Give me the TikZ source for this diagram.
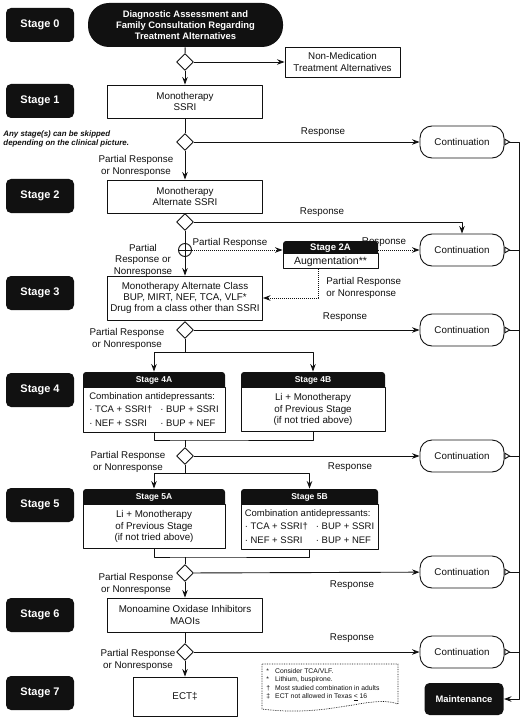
\documentclass[tikz,border=0pt]{standalone}
\usepackage{fontspec}
\setmainfont{Liberation Sans}
\usetikzlibrary{arrows.meta,calc,positioning,shapes.geometric}
\definecolor{tmapink}{HTML}{111111}

\begin{document}
\begin{tikzpicture}[x=1pt,y=-1pt,>={Stealth[length=7.5pt,width=5.5pt,inset=2.5pt]},
  line join=round,line width=.9pt,color=tmapink,
  font=\fontsize{9.8}{11.5}\selectfont,
  stage/.style={fill=tmapink,text=white,rounded corners=5pt,minimum width=68pt,minimum height=34pt,inner sep=0pt,font=\fontsize{11}{13}\selectfont\bfseries},
  entry/.style={fill=tmapink,text=white,rounded corners=21pt,minimum width=195pt,minimum height=44pt,inner sep=0pt,align=center,font=\fontsize{9.4}{11}\selectfont\bfseries},
  stepbox/.style={draw,fill=white,align=center,minimum width=155pt,inner sep=2pt},
  cont/.style={draw,fill=white,rounded corners=12pt,minimum width=84pt,minimum height=32pt,inner sep=0pt},
  finish/.style={fill=tmapink,text=white,rounded corners=5pt,minimum width=79pt,minimum height=32pt,inner sep=0pt,font=\fontsize{9.4}{11}\selectfont\bfseries},
  choice/.style={diamond,draw,fill=white,inner sep=0pt,minimum size=17pt},
  merge/.style={circle,draw,fill=white,inner sep=0pt,minimum size=13pt,
    path picture={\draw (path picture bounding box.north)--(path picture bounding box.south)
      (path picture bounding box.west)--(path picture bounding box.east);}},
  hdr/.style={fill=tmapink,text=white,rounded corners=3pt,inner sep=0pt,minimum height=18pt,text depth=3pt,font=\fontsize{8.5}{10}\selectfont\bfseries},
  panel/.style={draw,fill=white,align=center,inner sep=2pt},
  lbl/.style={align=center,inner sep=1pt},
  dots/.style={densely dotted,line width=1pt},
  contout/.style={{Triangle[open,reversed,length=6pt,width=7pt]}-}]
\path[use as bounding box] (0,0) rectangle (529,722);
\fill[white] (0,0) rectangle (529,722);

% stage column
\foreach \n/\y in {0/25,1/101,2/196,3/293,4/390,5/505,6/615,7/693}
  \node[stage] (s\n) at (40,\y) {Stage \n};

% Stage 0 and 1
\node[entry] (diag) at (185.5,25) {Diagnostic Assessment and\\Family Consultation Regarding\\Treatment Alternatives};
\node[choice] (d0) at (185,62) {};
\node[stepbox,minimum width=115pt,minimum height=30pt] (nonmed) at (342.5,62) {Non-Medication\\Treatment Alternatives};
\node[stepbox,minimum height=33pt] (m1) at (185,101.5) {Monotherapy\\SSRI};
\draw (diag) -- (d0);
\draw[->] (d0) -- (nonmed);
\draw[->] (d0) -- (m1);

% Stage 1 -> 2
\node[choice] (d1) at (185,142) {};
\node[cont] (c1) at (462,142) {Continuation};
\node[lbl] (r1) at (323,132) {Response};
\node[lbl] (p1) at (136,166) {Partial Response\\or Nonresponse};
\node[lbl,anchor=west,align=left,font=\fontsize{7.9}{9.5}\selectfont\bfseries\itshape] (skip) at (2,139) {Any stage(s) can be skipped\\depending on the clinical picture.};
\node[stepbox,minimum height=33pt] (m2) at (185,196.5) {Monotherapy\\Alternate SSRI};
\draw (m1) -- (d1);
\draw[->] (d1) -- (c1);
\draw[->] (d1) -- (m2);

% Stage 2 -> 2A / 3
\node[choice] (d2) at (185,222) {};
\node[cont] (c2) at (462,250) {Continuation};
\node[lbl] (r2) at (322,212) {Response};
\node[merge] (plus) at (185,250) {};
\node[lbl] (p2a) at (230,243) {Partial Response};
\node[hdr,minimum width=95pt,minimum height=15pt,font=\fontsize{9.5}{11}\selectfont\bfseries] (h2a) at (330.5,248.5) {Stage 2A};
\node[panel,minimum width=95pt,minimum height=15pt,inner sep=0pt,below=-3pt of h2a,font=\fontsize{10.5}{12}\selectfont] (b2a) {Augmentation**};
\node[lbl] (r2a) at (384,242) {Response};
\node[lbl,anchor=west,align=left] (p2b) at (325,288) {Partial Response\\or Nonresponse};
\node[lbl] (p2) at (143,260) {Partial\\Response or\\Nonresponse};
\node[stepbox,minimum height=44pt,font=\fontsize{9.8}{11}\selectfont] (m3) at (185,298) {Monotherapy Alternate Class\\BUP, MIRT, NEF, TCA, VLF*\\Drug from a class other than SSRI};
\draw (m2) -- (d2);
\draw[->] (d2) -| (c2);
\draw (d2) -- (plus);
\draw[->] (plus) -- (m3);
\draw[dots,->] (plus) -- (plus -| b2a.west);
\draw[dots,->] (plus -| b2a.east) -- (c2);
\draw[dots,->] ([xshift=-12pt]b2a.south) |- (m3);

% Stage 3 -> 4
\node[choice] (d3) at (185,330) {};
\node[cont] (c3) at (462,330) {Continuation};
\node[lbl] (r3) at (345,317) {Response};
\node[lbl] (p3) at (127,339) {Partial Response\\or Nonresponse};
\coordinate (br4) at (185,352);
\node[hdr,minimum width=142pt] (h4a) at (154,381) {Stage 4A};
\node[panel,minimum width=142pt,minimum height=44pt,below=-3pt of h4a,font=\fontsize{9.5}{13.5}\selectfont] (b4a)
  {\begin{tabular}{@{}l@{\hspace{8pt}}l@{}}\multicolumn{2}{@{}l@{}}{Combination antidepressants:}\\
   · TCA + SSRI† & · BUP + SSRI\\ · NEF + SSRI & · BUP + NEF\end{tabular}};
\node[hdr,minimum width=144pt] (h4b) at (313,381) {Stage 4B};
\node[panel,minimum width=144pt,minimum height=44pt,below=-3pt of h4b] (b4b) {Li + Monotherapy\\of Previous Stage\\(if not tried above)};
\coordinate (jn4) at (185,440);
\draw (m3) -- (d3);
\draw[->] (d3) -- (c3);
\draw (d3) -- (br4);
\draw[->] (br4) -| (h4a);
\draw[->] (br4) -| (h4b);
\draw (b4a) |- (jn4) -| (b4b);

% Stage 4 -> 5
\node[choice] (d4) at (185,456) {};
\node[cont] (c4) at (462,456) {Continuation};
\node[lbl] (r4) at (350,467) {Response};
\node[lbl] (p4) at (128,462) {Partial Response\\or Nonresponse};
\coordinate (br5) at (185,473);
\node[hdr,minimum width=142pt] (h5a) at (154,498) {Stage 5A};
\node[panel,minimum width=142pt,minimum height=44pt,below=-3pt of h5a] (b5a) {Li + Monotherapy\\of Previous Stage\\(if not tried above)};
\node[hdr,minimum width=137pt] (h5b) at (309.5,498) {Stage 5B};
\node[panel,minimum width=137pt,minimum height=44pt,below=-3pt of h5b,font=\fontsize{9.5}{13.5}\selectfont] (b5b)
  {\begin{tabular}{@{}l@{\hspace{8pt}}l@{}}\multicolumn{2}{@{}l@{}}{Combination antidepressants:}\\
   · TCA + SSRI† & · BUP + SSRI\\ · NEF + SSRI & · BUP + NEF\end{tabular}};
\coordinate (jn5) at (185,557);
\draw (jn4) -- (d4);
\draw[->] (d4) -- (c4);
\draw (d4) -- (br5);
\draw[->] (br5) -| (h5a);
\draw[->] (br5) -| (h5b);
\draw (b5a) |- (jn5) -| (b5b);

% Stage 5 -> 6 -> 7
\node[choice] (d5) at (185,573) {};
\node[cont] (c5) at (462,572) {Continuation};
\node[lbl] (r5) at (352,585) {Response};
\node[lbl] (p5) at (136,584) {Partial Response\\or Nonresponse};
\node[stepbox,minimum height=34pt] (m6) at (185,615) {Monoamine Oxidase Inhibitors\\MAOIs};
\node[choice] (d6) at (185,652) {};
\node[cont] (c6) at (462,652) {Continuation};
\node[lbl] (r6) at (352,638) {Response};
\node[lbl] (p6) at (138,660) {Partial Response\\or Nonresponse};
\node[stepbox,minimum width=104pt,minimum height=39pt] (ect) at (185,696.5) {ECT‡};
\node[finish] (maint) at (464,699) {Maintenance};
\draw (jn5) -- (d5);
\draw[->] (d5) -- (c5);
\draw[->] (d5) -- (m6);
\draw (m6) -- (d6);
\draw[->] (d6) -- (c6);
\draw[->] (d6) -- (ect);

% continuation bus into maintenance
\coordinate (bus) at (519,142);
\draw[{Triangle[open,reversed,length=6pt,width=7pt]}->] (c1.east) -- (bus) |- (maint);
\foreach \c in {c2,c3,c4,c5,c6}
  \draw[contout] (\c.east) -- (\c.east -| bus);

% footnotes
\node[lbl,anchor=north west,align=left,font=\fontsize{6.8}{8.5}\selectfont] (fn) at (265,666)
  {\begin{tabular}{@{}l@{\hspace{5pt}}l@{}}* & Consider TCA/VLF.\\** & Lithium, buspirone.\\
   † & Most studied combination in adults\\‡ & ECT not allowed in Texas \underline{<} 16\end{tabular}};
\draw[densely dotted,line width=.7pt] (262,664) -- (398,664) -- (398,704)
  .. controls (372,694) and (330,718) .. (262,709) -- cycle;
\end{tikzpicture}
\end{document}
